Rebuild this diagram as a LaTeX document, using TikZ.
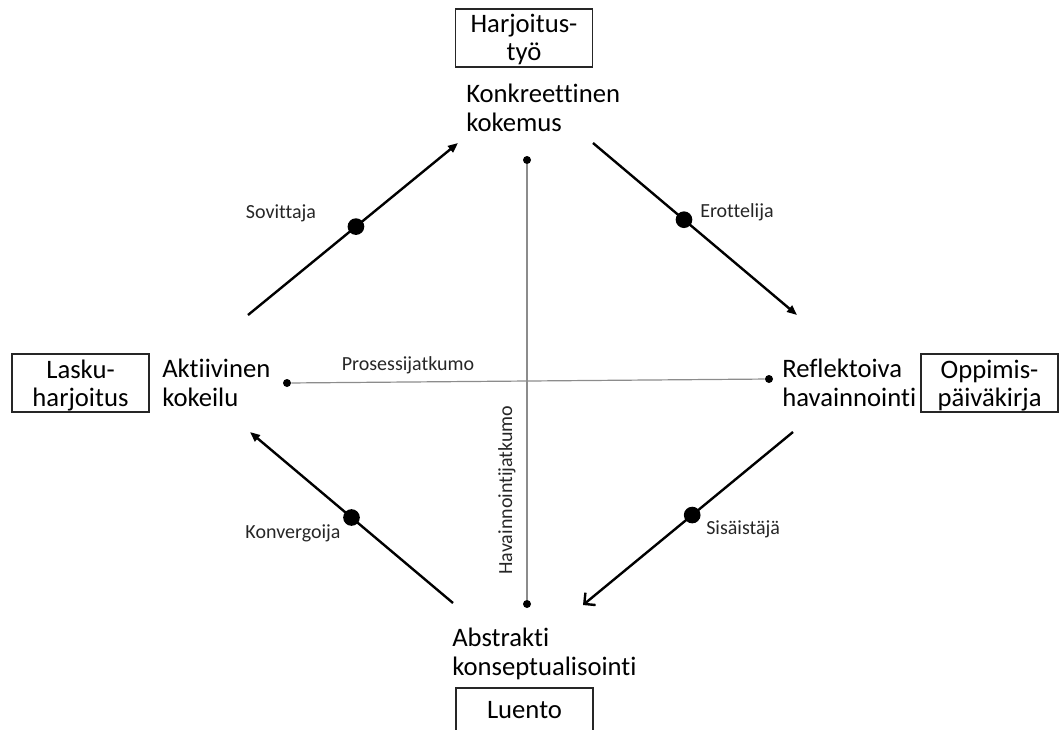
\documentclass[tikz,border=0pt]{standalone}
\usepackage{fontspec}
\setmainfont{Carlito}[Ligatures=NoCommon]
\usetikzlibrary{arrows.meta}
\begin{document}
\begin{tikzpicture}[x=0.75pt,y=-0.75pt,
  % multi-line nodes are anchored on the baseline of their last line
  concept/.style={anchor=base west, inner sep=0pt, align=left,
    font=\fontsize{20}{21.75}\selectfont},
  activity/.style={draw=black!85, line width=0.9pt, minimum width=102.75pt,
    minimum height=43.5pt, inner sep=0pt},
  activitytext/.style={anchor=base, inner sep=0pt, align=center,
    font=\fontsize{20}{21}\selectfont},
  learner/.style={inner sep=0pt, text=black!85, font=\fontsize{15}{17}\selectfont},
  flow/.style={line width=1.8pt, -{Triangle[length=7.5pt,width=6pt]}},
  barbflow/.style={line width=1.8pt, -{Straight Barb[length=6pt,width=12pt]}},
  bigdot/.style={circle, fill=black, inner sep=0pt, minimum size=12.5pt},
  enddot/.style={circle, fill=black, inner sep=0pt, minimum size=6pt},
  axis/.style={draw=black!45, line width=0.9pt}
]
\useasboundingbox (0,0) rectangle (1059,729);
\clip (0,0) rectangle (1059,729);

% the four learning stages
\node[concept] (ke) at (466,131) {Konkreettinen\\kokemus};
\node[concept] (ak) at (162,406) {Aktiivinen\\kokeilu};
\node[concept] (rh) at (782,406) {Reflektoiva\\havainnointi};
\node[concept] (ab) at (452,675) {Abstrakti\\konseptualisointi};

% teaching methods attached to the stages
\node[activity] (ht) at (524,38) {};
\node[activitytext] (htt) at (524,60) {Harjoitus-\\työ};
\node[activity] (lh) at (80.5,383) {};
\node[activitytext] (lht) at (80.5,406) {Lasku-\\harjoitus};
\node[activity] (op) at (989.5,383) {};
\node[activitytext] (opt) at (989.5,406) {Oppimis-\\päiväkirja};
\node[activity] (lu) at (524.5,717) {};
\node[activitytext] (lut) at (524.5,718) {Luento};

% the two continua
\node[enddot] (vt) at (527,160) {};
\node[enddot] (vb) at (527,604) {};
\node[enddot] (hl) at (287,383) {};
\node[enddot] (hr) at (769,379) {};
\draw[axis] (vt) -- (vb);
\draw[axis] (hl) -- (hr);
\node[learner] (pj) at (408,365) {Prosessijatkumo};
\node[learner, rotate=90] (hj) at (507,490) {Havainnointijatkumo};

% cycle arrows
\coordinate (s1) at (248,315);
\coordinate (s2) at (458,143);
\coordinate (e1) at (593,143);
\coordinate (e2) at (797,315);
\coordinate (i1) at (793,432);
\coordinate (i2) at (583,605);
\coordinate (k1) at (453,603);
\coordinate (k2) at (250,432);
\draw[flow] (s1) -- node[bigdot, pos=0.514] (sd) {} (s2);
\draw[flow] (e1) -- node[bigdot, pos=0.446] (ed) {} (e2);
\draw[barbflow] (i1) -- node[bigdot, pos=0.48] (id) {} (i2);
\draw[flow] (k1) -- node[bigdot, pos=0.5] (kd) {} (k2);

% learning styles
\node[learner] (sv) at (281,213) {Sovittaja};
\node[learner, anchor=west] (er) at (700,212) {Erottelija};
\node[learner, anchor=west] (si) at (706,529) {Sisäistäjä};
\node[learner] (kv) at (293,533) {Konvergoija};
\end{tikzpicture}
\end{document}
